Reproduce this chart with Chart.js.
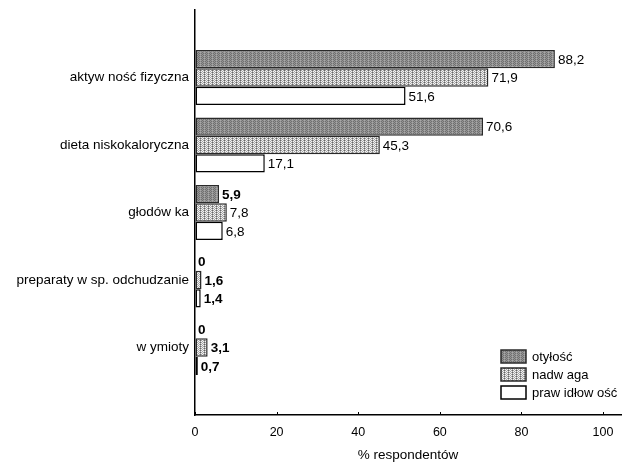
<!DOCTYPE html>
<html>
<head>
<meta charset="utf-8">
<script src="https://cdn.jsdelivr.net/npm/chart.js@4.4.0/dist/chart.umd.min.js"></script>
<style>
html,body{margin:0;padding:0;background:#fff;}
#wrap{width:636px;height:466px;position:relative;}
</style>
</head>
<body>
<div id="wrap"><canvas id="c"></canvas></div>
<script>
const categories = ['aktyw ność fizyczna', 'dieta niskokaloryczna', 'głodów ka', 'preparaty w sp. odchudzanie', 'w ymioty'];
const seriesNames = ['otyłość', 'nadw aga', 'praw idłow ość'];
const otylosc = [88.2, 70.6, 5.9, 0, 0];
const nadwaga = [71.9, 45.3, 7.8, 1.6, 3.1];
const prawidlowa = [51.6, 17.1, 6.8, 1.4, 0.7];
const xTicks = [0, 20, 40, 60, 80, 100];
const xTitle = '% respondentów';
// which value labels are printed bold: [seriesIndex, categoryIndex]
const boldLabels = [[0,2],[0,3],[1,3],[2,3],[0,4],[1,4],[2,4]];

const FONT = '"Liberation Sans", Arial, sans-serif';

function makePattern(c1, c2, c3) {
  const p = document.createElement('canvas');
  p.width = 4; p.height = 4;
  const g = p.getContext('2d');
  for (let y = 0; y < 4; y++) {
    for (let x = 0; x < 4; x++) {
      let col = ((x + y) % 2 === 0) ? c1 : c2;
      if (c3 && x % 4 === 0 && y % 2 === 0) col = c3;
      g.fillStyle = col;
      g.fillRect(x, y, 1, 1);
    }
  }
  return g.createPattern(p, 'repeat');
}
const darkFill = makePattern('#707070', '#959595', '#a8a8a8');
const hatchFill = makePattern('#f2f2f2', '#a6a6a6', '#666666');

// padding categories so group centres fall on positions 1..5 of 0..6
const yLabels = [''].concat(categories).concat(['']);
function pad(arr) { return [null].concat(arr).concat([null]); }

const fills = [darkFill, hatchFill, '#ffffff'];
const borders = ['#2a2a2a', '#2a2a2a', '#000000'];
const seriesData = [otylosc, nadwaga, prawidlowa];

const datasets = seriesData.map((d, i) => ({
  label: seriesNames[i],
  data: pad(d),
  backgroundColor: fills[i],
  borderColor: borders[i],
  borderWidth: 1.5,
  borderSkipped: false,
  barPercentage: 1,
  categoryPercentage: 0.815
}));

function fmt(v) {
  if (v === 0) return '0';
  return v.toFixed(1).replace('.', ',');
}

const labelPlugin = {
  id: 'valueLabels',
  afterDatasetsDraw(chart) {
    const ctx = chart.ctx;
    ctx.save();
    ctx.fillStyle = '#000';
    ctx.textBaseline = 'middle';
    ctx.textAlign = 'left';
    chart.data.datasets.forEach((ds, di) => {
      const meta = chart.getDatasetMeta(di);
      meta.data.forEach((el, idx) => {
        const v = ds.data[idx];
        if (v === null || v === undefined) return;
        const ci = idx - 1;
        const bold = boldLabels.some(b => b[0] === di && b[1] === ci);
        ctx.font = (bold ? 'bold ' : '') + '13.5px ' + FONT;
        ctx.fillText(fmt(v), el.x + 3, el.y + 1);
      });
    });
    ctx.restore();
  }
};

const axisPlugin = {
  id: 'innerTicks',
  afterDraw(chart) {
    const ctx = chart.ctx;
    const xs = chart.scales.x;
    const bottom = chart.chartArea.bottom;
    ctx.save();
    ctx.strokeStyle = '#000';
    ctx.lineWidth = 1;
    xTicks.forEach(v => {
      const px = Math.round(xs.getPixelForValue(v)) + 0.5;
      ctx.beginPath();
      ctx.moveTo(px, bottom);
      ctx.lineTo(px, bottom - 3);
      ctx.stroke();
    });
    ctx.restore();
  }
};

const legendPlugin = {
  id: 'innerLegend',
  afterDraw(chart) {
    const ctx = chart.ctx;
    const area = chart.chartArea;
    const x0 = area.right - 120;
    const y0 = area.bottom - 65;
    ctx.save();
    chart.data.datasets.forEach((ds, i) => {
      const y = y0 + i * 18;
      ctx.fillStyle = ds.backgroundColor;
      ctx.fillRect(x0, y, 25, 13);
      ctx.strokeStyle = ds.borderColor;
      ctx.lineWidth = 1.5;
      ctx.strokeRect(x0, y, 25, 13);
      ctx.fillStyle = '#000';
      ctx.font = '13px ' + FONT;
      ctx.textBaseline = 'middle';
      ctx.textAlign = 'left';
      ctx.fillText(ds.label, x0 + 31, y + 7);
    });
    ctx.restore();
  }
};

new Chart(document.getElementById('c'), {
  type: 'bar',
  data: { labels: yLabels, datasets: datasets },
  options: {
    indexAxis: 'y',
    responsive: true,
    maintainAspectRatio: false,
    animation: false,
    devicePixelRatio: 1,
    layout: { padding: { top: 10, right: 15, bottom: 0, left: 0 } },
    plugins: { legend: { display: false }, tooltip: { enabled: false } },
    scales: {
      x: {
        type: 'linear',
        min: 0,
        max: 104.4,
        afterBuildTicks(scale) { scale.ticks = xTicks.map(v => ({ value: v })); },
        afterFit(scale) { scale.height = 51; scale.paddingLeft = 0; scale.paddingRight = 0; },
        grid: { display: true, drawOnChartArea: false, drawTicks: false, color: 'rgba(0,0,0,0)' },
        border: { display: true, color: '#000', width: 1.5 },
        ticks: { color: '#000', font: { family: FONT, size: 12.5 }, padding: 10, maxRotation: 0 },
        title: { display: true, text: xTitle, color: '#000', font: { family: FONT, size: 13.5 }, padding: { top: 0, bottom: 3 } }
      },
      y: {
        type: 'category',
        offset: false,
        afterFit(scale) { scale.width = 195; scale.paddingTop = 0; scale.paddingBottom = 0; },
        grid: { display: true, drawOnChartArea: false, drawTicks: false, color: 'rgba(0,0,0,0)' },
        border: { display: true, color: '#000', width: 1.5 },
        ticks: { color: '#000', font: { family: FONT, size: 13.5 }, padding: 6, autoSkip: false }
      }
    }
  },
  plugins: [labelPlugin, axisPlugin, legendPlugin]
});
</script>
</body>
</html>
